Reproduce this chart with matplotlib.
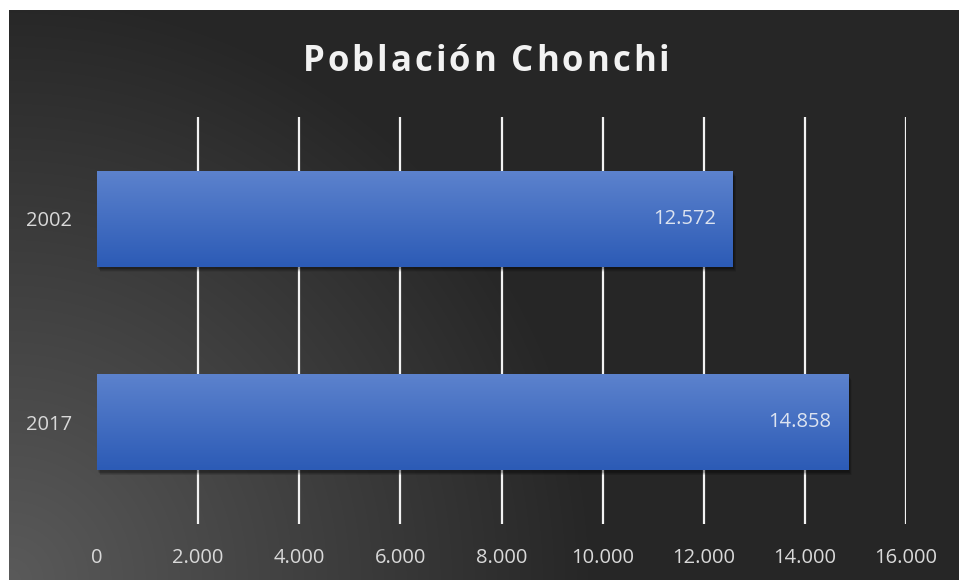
import matplotlib
matplotlib.use('Agg')
import matplotlib.pyplot as plt
import matplotlib.patches as mpatches
import matplotlib.transforms as mtransforms
import numpy as np

# chart data
years = ['2002', '2017']
population = [12572, 14858]
value_labels = ['12.572', '14.858']
x_ticks = [0, 2000, 4000, 6000, 8000, 10000, 12000, 14000, 16000]
x_tick_labels = ['0', '2.000', '4.000', '6.000', '8.000', '10.000', '12.000', '14.000', '16.000']
title = 'Población Chonchi'

W, H = 959, 580
fig = plt.figure(figsize=(W / 100, H / 100), dpi=100)
fig.patch.set_facecolor('white')

# dark radial background (light corner bottom-left)
bg_left, bg_top = 9, 10
bg = fig.add_axes([bg_left / W, 0, (W - bg_left) / W, (H - bg_top) / H])
bw, bh = W - bg_left, H - bg_top
xx, yy = np.meshgrid(np.arange(bw), np.arange(bh))
dist = np.sqrt(xx ** 2 + (bh - yy) ** 2)
t = np.clip(dist / 590.0, 0, 1)
grey = (90 - (90 - 38) * t) / 255.0
bg.imshow(np.dstack([grey, grey, grey]), aspect='auto', extent=(0, 1, 0, 1), origin='upper')
bg.set_axis_off()

ax = fig.add_axes([97 / W, 56 / H, (906 - 97) / W, (524 - 117) / H])
ax.patch.set_alpha(0)
ax.set_xlim(0, 16000)
ax.set_ylim(1.5, -0.5)

bar_h = 0.47
ypos = np.arange(len(years))

# vertical grid lines
for xv in x_ticks[1:]:
    ax.axvline(xv, color='#f2f2f2', lw=1.6, zorder=1)

# soft bar shadows
for i, v in enumerate(population):
    for k in range(8):
        grow = k * 0.6
        off = mtransforms.ScaledTranslation((1.0 + k * 0.35) / 100, -(2.0 + k * 0.45) / 100, fig.dpi_scale_trans)
        sh = mpatches.Rectangle((0, ypos[i] - bar_h / 2), v, bar_h, facecolor='black',
                                alpha=0.06, edgecolor='none', transform=ax.transData + off, zorder=2)
        ax.add_patch(sh)

# bars with vertical gradient
top_c = np.array([92, 130, 205]) / 255.0
bot_c = np.array([44, 91, 182]) / 255.0
grad = np.linspace(0, 1, 100)[:, None]
grad_img = top_c[None, None, :] * (1 - grad[:, :, None]) + bot_c[None, None, :] * grad[:, :, None]
bars = ax.barh(ypos, population, height=bar_h, color='#4472c4', zorder=3)
for i, b in enumerate(bars):
    y0 = ypos[i] - bar_h / 2
    im = ax.imshow(grad_img, aspect='auto', origin='upper',
                   extent=(0, population[i], y0 + bar_h, y0), zorder=4)
    im.set_clip_path(b)
    ax.text(population[i] - 330, ypos[i], value_labels[i], ha='right', va='center',
            fontsize=14.5, family='Open Sans', color='#dce3f0', zorder=5)

ax.set_xlim(0, 16000)
ax.set_ylim(1.5, -0.5)

ax.set_xticks(x_ticks)
ax.set_xticklabels(x_tick_labels)
ax.set_yticks(ypos)
ax.set_yticklabels(years)
ax.tick_params(length=0, labelsize=14.5, labelcolor='#d9d9d9')
ax.tick_params(axis='x', pad=17)
ax.tick_params(axis='y', pad=18)
for lab in ax.get_xticklabels() + ax.get_yticklabels():
    lab.set_family('Open Sans')
for s in ax.spines.values():
    s.set_visible(False)

# title with letter spacing, placed char by char
renderer = fig.canvas.get_renderer()
tkw = dict(fontsize=25, fontweight='bold', family='Open Sans', color='#f2f2f2', va='center', ha='left')
track = 3.0
widths = []
for ch in title:
    if ch == ' ':
        widths.append(25 * 1.389 * 0.26)
        continue
    tt = fig.text(0, 0, ch, **tkw)
    widths.append(tt.get_window_extent(renderer).width)
    tt.remove()
total = sum(widths) + track * (len(title) - 1)
xp = 486 - total / 2
for ch, w in zip(title, widths):
    if ch != ' ':
        fig.text(xp / W, 1 - 62 / H, ch, **tkw)
    xp += w + track

fig.savefig('out.png', dpi=100, facecolor=fig.get_facecolor())
